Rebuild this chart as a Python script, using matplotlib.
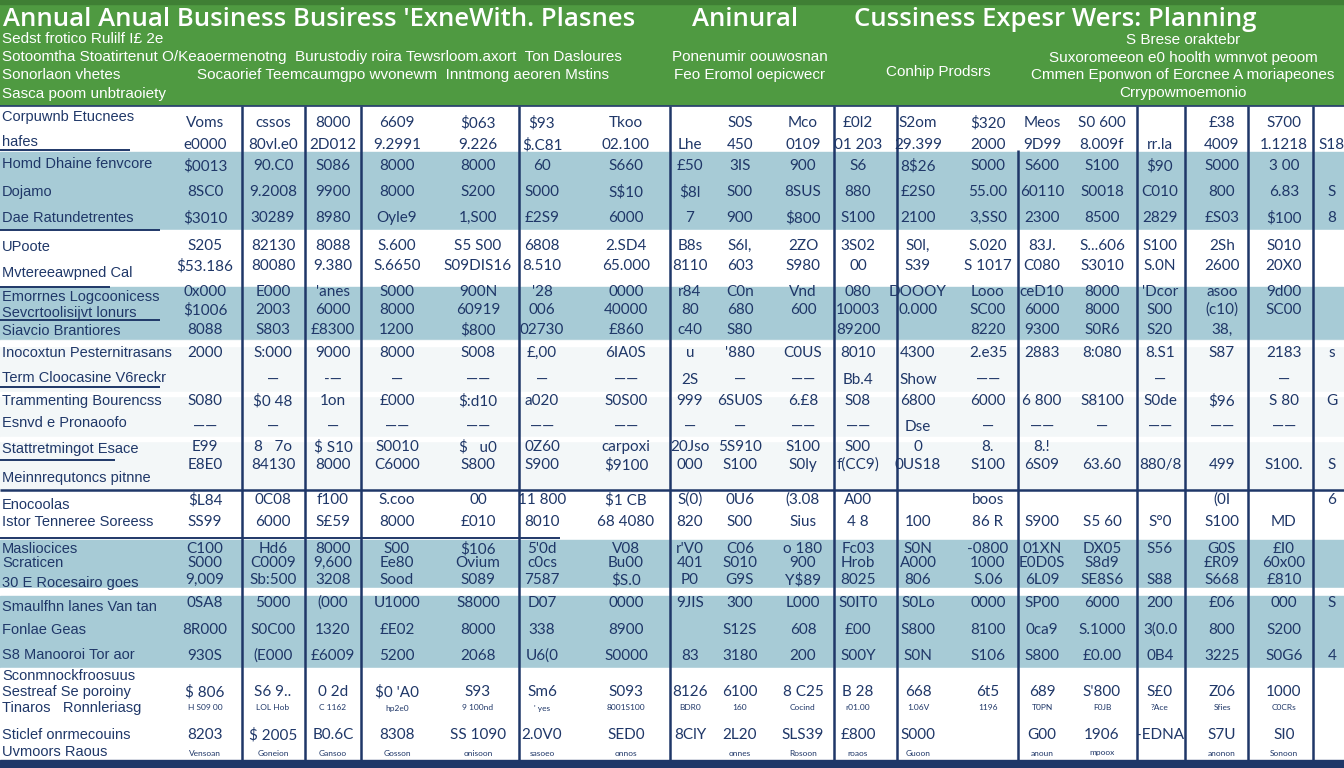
"""
Annual business expense planning sheet - table drawn as a picture
"""

import matplotlib
matplotlib.use("Agg")
import matplotlib.pyplot as plt


GREEN = "#4f9a41"
GREEN_DARK = "#3f7f34"
BLUE_BAND = "#a7cbd6"
WHITE_BAND = "#f3f7f8"
NAVY = "#1f3768"

TITLE_LEFT = "Annual Anual Business Busiress 'ExneWith. Plasnes"
TITLE_MID = "Aninural"
TITLE_RIGHT = "Cussiness Expesr Wers: Planning"

SUBTITLES_LEFT = [
    "Sedst frotico Rulilf I£ 2e",
    "Sotoomtha Stoatirtenut O/Keaoermenotng  Burustodiy roira Tewsrloom.axort  Ton Dasloures",
    "Sonorlaon vhetes",
    "Sasca poom unbtraoiety",
]
SUBTITLE_MID_LEFT = "Socaorief Teemcaumgpo wvonewm  Inntmong aeoren Mstins"
SUBTITLES_RIGHT_A = ["Ponenumir oouwosnan", "Feo Eromol oepicwecr"]
SUBTITLE_PRODUCTS = "Conhip Prodsrs"
SUBTITLES_RIGHT_B = [
    "S Brese oraktebr",
    "Suxoromeeon e0 hoolth wmnvot peoom",
    "Cmmen Eponwon of Eorcnee A moriapeones",
    "Crrypowmoemonio",
]

ROW_LABELS = [
    "Corpuwnb Etucnees", "hafes", "Homd Dhaine fenvcore", "Dojamo",
    "Dae Ratundetrentes", "UPoote", "Mvtereeawpned Cal", "Emorrnes Logcoonicess",
    "Sevcrtoolisijvt lonurs", "Siavcio Brantiores", "Inocoxtun Pesternitrasans",
    "Term Cloocasine V6reckr", "Trammenting Bourencss", "Esnvd e Pronaoofo",
    "Stattretmingot Esace", "Meinnrequtoncs pitnne", "Enocoolas",
    "Istor Tenneree Soreess", "Masliocices", "Scraticen", "30 E Rocesairo goes",
    "Smaulfhn lanes Van tan", "Fonlae Geas", "S8 Manooroi Tor aor",
    "Sconmnockfroosuus", "Sestreaf Se poroiny", "Tinaros   Ronnleriasg",
    "Sticlef onrmecouins", "Uvmoors Raous",
]

VALUES = [
    ["Voms", "cssos", "8000", "6609", "$063", "$93", "Tkoo", "", "S0S", "Mco", "£0l2", "S2om", "$320", "Meos", "S0 600", "", "£38", "S700", ""],
    ["e0000", "80vl.e0", "2D012", "9.2991", "9.226", "$.C81", "02.100", "Lhe", "450", "0109", "01 203", "29.399", "2000", "9D99", "8.009f", "rr.la", "4009", "1.1218", "S18"],
    ["$0013", "90.C0", "S086", "8000", "8000", "60", "S660", "£50", "3IS", "900", "S6", "8$26", "S000", "S600", "S100", "$90", "S000", "3 00", ""],
    ["8SC0", "9.2008", "9900", "8000", "S200", "S000", "S$10", "$8l", "S00", "8SUS", "880", "£2S0", "55.00", "60110", "S0018", "C010", "800", "6.83", "S"],
    ["$3010", "30289", "8980", "Oyle9", "1,S00", "£2S9", "6000", "7", "900", "$800", "S100", "2100", "3,SS0", "2300", "8500", "2829", "£S03", "$100", "8"],
    ["S205", "82130", "8088", "S.600", "S5 S00", "6808", "2.SD4", "B8s", "S6l,", "2ZO", "3S02", "S0l,", "S.020", "83J.", "S...606", "S100", "2Sh", "S010", ""],
    ["$53.186", "80080", "9.380", "S.6650", "S09DIS16", "8.510", "65.000", "8110", "603", "S980", "00", "S39", "S 1017", "C080", "S3010", "S.0N", "2600", "20X0", ""],
    ["0x000", "E000", "'anes", "S000", "900N", "'28", "0000", "r84", "C0n", "Vnd", "080", "DOOOY", "Looo", "ceD10", "8000", "'Dcor", "asoo", "9d00", ""],
    ["$1006", "2003", "6000", "8000", "60919", "006", "40000", "80", "680", "600", "10003", "0.000", "SC00", "6000", "8000", "S00", "(c10)", "SC00", ""],
    ["8088", "S803", "£8300", "1200", "$800", "02730", "£860", "c40", "S80", "", "89200", "", "8220", "9300", "S0R6", "S20", "38,", "", ""],
    ["2000", "S:000", "9000", "8000", "S008", "£,00", "6IA0S", "u", "'880", "C0US", "8010", "4300", "2.e35", "2883", "8:080", "8.S1", "S87", "2183", "s"],
    ["", "—", "-—", "—", "——", "—", "——", "2S", "—", "——", "Bb.4", "Show", "——", "", "", "—", "", "—", ""],
    ["S080", "$0 48", "1on", "£000", "$:d10", "a020", "S0S00", "999", "6SU0S", "6.£8", "S08", "6800", "6000", "6 800", "S8100", "S0de", "$96", "S 80", "G"],
    ["——", "—", "—", "——", "——", "——", "——", "—", "—", "——", "——", "Dse", "—", "——", "—", "——", "——", "——", ""],
    ["E99", "8   7o", "$ S10", "S0010", "$   u0", "0Z60", "carpoxi", "20Jso", "5S910", "S100", "S00", "0", "8.", "8.!", "", "", "", "", ""],
    ["E8E0", "84130", "8000", "C6000", "S800", "S900", "$9100", "000", "S100", "S0ly", "f(CC9)", "0US18", "S100", "6S09", "63.60", "880/8", "499", "S100.", "S"],
    ["$L84", "0C08", "f100", "S.coo", "00", "11 800", "$1 CB", "S(0)", "0U6", "(3.08", "A00", "", "boos", "", "", "", "(0I", "", "6"],
    ["SS99", "6000", "S£59", "8000", "£010", "8010", "68 4080", "820", "S00", "Sius", "4 8", "100", "86 R", "S900", "S5 60", "S°0", "S100", "MD", ""],
    ["C100", "Hd6", "8000", "S00", "$106", "5'0d", "V08", "r'V0", "C06", "o 180", "Fc03", "S0N", "-0800", "01XN", "DX05", "S56", "G0S", "£I0", ""],
    ["S000", "C0009", "9,600", "Ee80", "Ovium", "c0cs", "Bu00", "401", "S010", "900", "Hrob", "A000", "1000", "E0D0S", "S8d9", "", "£R09", "60x00", ""],
    ["9,009", "Sb:500", "3208", "Sood", "S089", "7587", "$S.0", "P0", "G9S", "Y$89", "8025", "806", "S.06", "6L09", "SE8S6", "S88", "S668", "£810", ""],
    ["0SA8", "5000", "(000", "U1000", "S8000", "D07", "0000", "9JIS", "300", "L000", "S0IT0", "S0Lo", "0000", "SP00", "6000", "200", "£06", "000", "S"],
    ["8R000", "S0C00", "1320", "£E02", "8000", "338", "8900", "", "S12S", "608", "£00", "S800", "8100", "0ca9", "S.1000", "3(0.0", "800", "S200", ""],
    ["930S", "(E000", "£6009", "5200", "2068", "U6(0", "S0000", "83", "3180", "200", "S00Y", "S0N", "S106", "S800", "£0.00", "0B4", "3225", "S0G6", "4"],
    ["$ 806", "S6 9..", "0 2d", "$0 'A0", "S93", "Sm6", "S093", "8126", "6100", "8 C25", "B 28", "668", "6t5", "689", "S'800", "S£0", "Z06", "1000", ""],
    ["H S09 00", "LOL Hob", "C 1162", "hp2e0", "9 100nd", "' yes", "8001S100", "BDR0", "160", "Cocind", "r01.00", "1.06V", "1196", "T0PN", "F0JB", "?Ace", "Sfies", "C0CRs", ""],
    ["8203", "$ 2005", "B0.6C", "8308", "SS 1090", "2.0V0", "SED0", "8ClY", "2L20", "SLS39", "£800", "S000", "", "G00", "1906", "-EDNA", "S7U", "SI0", ""],
    ["Vensoan", "Goneion", "Gansoo", "Gosson", "onisoon", "sasoeo", "onnos", "", "onnes", "Rosoon", "roaos", "Guoon", "", "anoun", "mpoox", "", "anonon", "Sonoon", ""],
]

# layout (pixel coordinates on a 1344 x 768 canvas)
LABEL_Y = [117, 142, 164, 192, 218, 247, 273, 297, 313, 331, 353, 378, 401, 423,
           449, 478, 505, 522, 549, 563, 583, 607, 630, 655, 676, 692, 708, 735, 752]
VALUE_Y = [123, 145, 166, 192, 218, 246, 266, 292, 310, 330, 353, 380, 401, 427,
           447, 465, 500, 522, 549, 563, 580, 603, 630, 656, 692, 708, 735, 753]
SMALL_ROWS = {25, 27}
VALUE_X = [205, 273, 333, 397, 478, 542, 626, 690, 740, 803, 858, 918, 988,
           1042, 1102, 1160, 1222, 1284, 1332]
COL_LINES = [242, 305, 361, 519, 670, 834, 897, 1137, 1185, 1248, 1313]
BANDS = [
    (106, 152, "white"), (152, 230, BLUE_BAND), (230, 287, "white"),
    (287, 340, BLUE_BAND), (340, 490, WHITE_BAND), (490, 540, "white"),
    (540, 588, BLUE_BAND), (588, 596, "white"), (596, 668, BLUE_BAND),
    (668, 760, "white"),
]

fig = plt.figure(figsize=(13.44, 7.68), dpi=100)
ax = fig.add_axes([0, 0, 1, 1])
ax.set_xlim(0, 1344)
ax.set_ylim(768, 0)
ax.axis("off")

# header
ax.axhspan(0, 106, color=GREEN, zorder=0)
ax.axhspan(0, 4, color=GREEN_DARK, zorder=0)

for y0, y1, c in BANDS:
    ax.axhspan(y0, y1, color=c, zorder=0)
ax.axhspan(760, 768, color=NAVY, zorder=0)

# lighter stripes inside the grey block
for y0, y1 in [(341, 346), (392, 396), (437, 441)]:
    ax.axhspan(y0, y1, color="white", zorder=0.5)

ax.vlines(COL_LINES, 106, 760, color=NAVY, linewidth=1.8, zorder=3)
ax.vlines([1018], 150, 760, color=NAVY, linewidth=1.8, zorder=3)
ax.hlines([106], 0, 1344, color=NAVY, linewidth=1.2, zorder=3)
ax.hlines([490], 0, 1344, color=NAVY, linewidth=1.8, zorder=3)
ax.hlines([538], 0, 560, color=NAVY, linewidth=1.4, zorder=3)
for y, x1 in [(150, 130), (230, 160), (287, 110), (320, 160), (387, 160), (460, 115)]:
    ax.hlines(y, 0, x1, color=NAVY, linewidth=1.4, zorder=3)

# titles
title_font = ["Open Sans", "DejaVu Sans"]
narrow_font = ["Liberation Sans Narrow", "Liberation Sans", "DejaVu Sans"]
ax.text(3, 20, TITLE_LEFT, color="white", fontsize=18.5, fontweight="semibold",
        family=title_font, va="center", ha="left")
ax.text(745, 20, TITLE_MID, color="white", fontsize=18.5, fontweight="semibold",
        family=title_font, va="center", ha="center")
ax.text(1055, 20, TITLE_RIGHT, color="white", fontsize=18.5, fontweight="semibold",
        family=title_font, va="center", ha="center")

for text, y in zip(SUBTITLES_LEFT, [39, 57, 75, 94]):
    ax.text(2, y, text, color="white", fontsize=11, family=narrow_font,
            va="center", ha="left")
ax.text(197, 75, SUBTITLE_MID_LEFT, color="white", fontsize=11,
        family=narrow_font, va="center", ha="left")
for text, y in zip(SUBTITLES_RIGHT_A, [57, 75]):
    ax.text(750, y, text, color="white", fontsize=11, family=narrow_font,
            va="center", ha="center")
ax.text(938, 72, SUBTITLE_PRODUCTS, color="white", fontsize=11,
        family=narrow_font, va="center", ha="center")
for text, y in zip(SUBTITLES_RIGHT_B, [40, 58, 75, 93]):
    ax.text(1183, y, text, color="white", fontsize=11, family=narrow_font,
            va="center", ha="center")

# row labels
for text, y in zip(ROW_LABELS, LABEL_Y):
    ax.text(2, y, text, color=NAVY, fontsize=10.5, family=narrow_font,
            va="center", ha="left", zorder=4)

# cell values
value_font = ["Lato", "DejaVu Sans"]
for i, (row, y) in enumerate(zip(VALUES, VALUE_Y)):
    size = 6 if i in SMALL_ROWS else 11
    for x, val in zip(VALUE_X, row):
        if val:
            ax.text(x, y, val, color=NAVY, fontsize=size, family=value_font,
                    va="center", ha="center", zorder=4)

fig.savefig("out.png", dpi=100)
